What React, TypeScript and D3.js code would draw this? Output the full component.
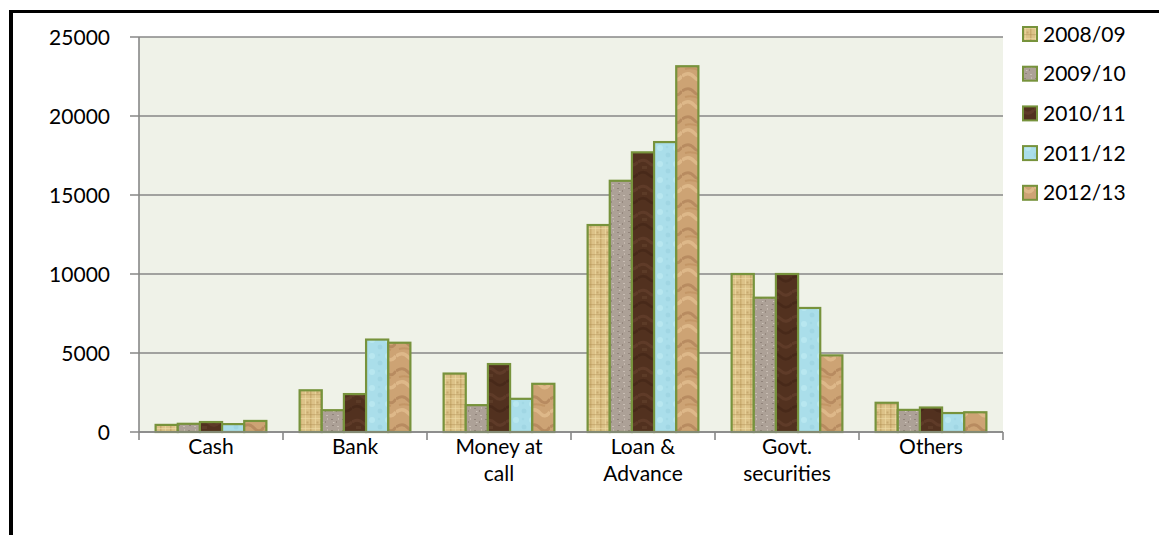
import React from "react";
import * as d3 from "d3";

const categories = ["Cash", "Bank", "Money at call", "Loan & Advance", "Govt. securities", "Others"];
const categoryLines = [["Cash"], ["Bank"], ["Money at", "call"], ["Loan &", "Advance"], ["Govt.", "securities"], ["Others"]];
const seriesNames = ["2008/09", "2009/10", "2010/11", "2011/12", "2012/13"];
const v0809 = [450, 2640, 3700, 13100, 10000, 1850];
const v0910 = [520, 1380, 1700, 15900, 8500, 1400];
const v1011 = [630, 2400, 4300, 17700, 10000, 1550];
const v1112 = [500, 5850, 2100, 18350, 7850, 1200];
const v1213 = [700, 5650, 3050, 23150, 4850, 1250];
const seriesValues = [v0809, v0910, v1011, v1112, v1213];
const yTicks = [0, 5000, 10000, 15000, 20000, 25000];

const FONT = "Lato, 'Open Sans', sans-serif";
const OUTLINE = "#77933c";

function Patterns() {
  return (
    <defs>
      {/* 2008/09 woven tan */}
      <pattern id="p0" width="10" height="10" patternUnits="userSpaceOnUse">
        <rect width="10" height="10" fill="#dcc288" />
        <rect x="0" y="0" width="1.5" height="10" fill="#b39150" opacity="0.45" />
        <rect x="5" y="0" width="1" height="10" fill="#efdba4" opacity="0.6" />
        <rect x="0" y="4" width="10" height="1.2" fill="#a8864a" opacity="0.35" />
        <rect x="0" y="8" width="10" height="1" fill="#f2e0ac" opacity="0.5" />
        <rect x="6.5" y="1.5" width="2" height="2" fill="#98753a" opacity="0.3" />
      </pattern>
      {/* 2009/10 granite */}
      <pattern id="p1" width="11" height="11" patternUnits="userSpaceOnUse">
        <rect width="11" height="11" fill="#ada197" />
        <rect x="1" y="1" width="2" height="1" fill="#857870" opacity="0.7" />
        <rect x="6" y="3" width="1" height="2" fill="#8a7d74" opacity="0.7" />
        <rect x="2" y="7" width="2" height="1" fill="#7d7068" opacity="0.6" />
        <rect x="7" y="8" width="2" height="1" fill="#d0c6bc" opacity="0.8" />
        <rect x="3" y="4" width="1.5" height="1" fill="#d3cac1" opacity="0.8" />
        <rect x="8" y="0" width="1" height="2" fill="#c9beb4" opacity="0.8" />
      </pattern>
      {/* 2010/11 dark brown */}
      <pattern id="p2" width="22" height="26" patternUnits="userSpaceOnUse">
        <rect width="22" height="26" fill="#52311f" />
        <path d="M0 6 Q6 2 11 7 T22 6" stroke="#6b4631" strokeWidth="3" fill="none" opacity="0.5" />
        <path d="M0 18 Q6 14 11 19 T22 18" stroke="#3d2213" strokeWidth="3" fill="none" opacity="0.5" />
        <rect x="4" y="10" width="5" height="3" fill="#6f4c36" opacity="0.35" />
      </pattern>
      {/* 2011/12 light blue */}
      <pattern id="p3" width="16" height="16" patternUnits="userSpaceOnUse">
        <rect width="16" height="16" fill="#aadeea" />
        <circle cx="4" cy="4" r="3" fill="#c2ecf4" opacity="0.6" />
        <circle cx="12" cy="11" r="2.5" fill="#94cddb" opacity="0.45" />
        <circle cx="11" cy="3" r="1.3" fill="#9bd3e0" opacity="0.45" />
      </pattern>
      {/* 2012/13 tan wavy */}
      <pattern id="p4" width="22" height="28" patternUnits="userSpaceOnUse">
        <rect width="22" height="28" fill="#cda374" />
        <path d="M0 7 Q7 2 12 8 T22 7" stroke="#9e7046" strokeWidth="3" fill="none" opacity="0.45" />
        <path d="M0 20 Q7 15 12 21 T22 20" stroke="#e9c797" strokeWidth="3.5" fill="none" opacity="0.6" />
        <path d="M3 13 Q9 11 17 14" stroke="#b3834f" strokeWidth="2" fill="none" opacity="0.4" />
      </pattern>
    </defs>
  );
}

export default function App() {
  const W = 1159;
  const H = 535;
  const left = 139, right = 1003, top = 37, bottom = 432;
  const x = d3.scaleBand<string>().domain(categories).range([left, right]).paddingInner(0).paddingOuter(0);
  const inner = d3.scaleBand<string>().domain(seriesNames).range([0, x.bandwidth()]).paddingInner(0).paddingOuter(0.75);
  const y = d3.scaleLinear().domain([0, 25000]).range([bottom, top]);
  const catTicks = [...categories.map((c) => x(c) as number), right];

  return (
    <svg width={W} height={H} style={{ position: "absolute", left: 0, top: 0 }} fontFamily={FONT}>
      <Patterns />
      <rect x={0} y={0} width={W} height={H} fill="#ffffff" />
      {/* outer border */}
      <line x1={9} y1={11.5} x2={W} y2={11.5} stroke="#000" strokeWidth={3} />
      <line x1={11} y1={10} x2={11} y2={H} stroke="#000" strokeWidth={4} />
      {/* plot area */}
      <rect x={left} y={top} width={right - left} height={bottom - top} fill="#eff2e8" />
      {yTicks.map((t) => (
        <g key={t}>
          <line x1={left - 9} x2={right} y1={y(t)} y2={y(t)} stroke="#878787" strokeWidth={1.6} />
          <text x={110} y={y(t)} dy="0.36em" textAnchor="end" fontSize={21} fill="#000">
            {t}
          </text>
        </g>
      ))}
      <line x1={left} x2={left} y1={top} y2={bottom} stroke="#878787" strokeWidth={1.6} />
      {catTicks.map((cx, i) => (
        <line key={i} x1={cx} x2={cx} y1={bottom} y2={bottom + 8} stroke="#878787" strokeWidth={1.6} />
      ))}
      {/* bars */}
      {seriesValues.map((vals, si) =>
        vals.map((v, ci) => {
          const bx = (x(categories[ci]) as number) + (inner(seriesNames[si]) as number);
          return (
            <rect
              key={`${si}-${ci}`}
              x={bx}
              y={y(v)}
              width={inner.bandwidth()}
              height={bottom - y(v)}
              fill={`url(#p${si})`}
              stroke={OUTLINE}
              strokeWidth={2.2}
            />
          );
        })
      )}
      <line x1={left} x2={right} y1={bottom} y2={bottom} stroke="#878787" strokeWidth={1.6} />
      {/* category labels */}
      {categoryLines.map((lines, ci) => (
        <text key={ci} x={(x(categories[ci]) as number) + x.bandwidth() / 2} y={454} textAnchor="middle" fontSize={21} fill="#000">
          {lines.map((ln, li) => (
            <tspan key={li} x={(x(categories[ci]) as number) + x.bandwidth() / 2} dy={li === 0 ? 0 : 27}>
              {ln}
            </tspan>
          ))}
        </text>
      ))}
      {/* legend */}
      {seriesNames.map((s, i) => {
        const ly = 34 + i * 39.7;
        return (
          <g key={s}>
            <rect x={1023} y={ly - 7} width={14} height={14} fill={`url(#p${i})`} stroke={OUTLINE} strokeWidth={2} />
            <text x={1043} y={ly} dy="0.36em" fontSize={21} fill="#000">
              {s}
            </text>
          </g>
        );
      })}
    </svg>
  );
}
